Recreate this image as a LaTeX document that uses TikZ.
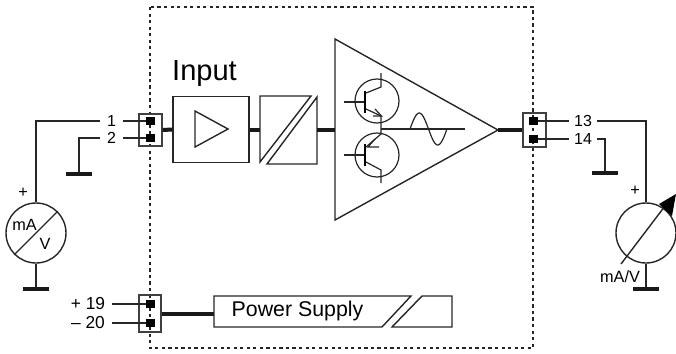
\documentclass[tikz,border=0pt]{standalone}
\usepackage{fontspec}
\setmainfont{Liberation Sans}
\usepackage{tikz}
\tikzset{
	wire/.style={draw=black!85,line width=1.05pt,line join=miter},
	bus/.style={draw=black!90,line width=3pt},
	framebox/.style={draw=black!85,line width=1.1pt,dash pattern=on 2.4pt off 2.5pt},
	pad/.style={fill=black,inner sep=0pt,minimum width=6.5pt,minimum height=6.5pt},
	termbox/.style={draw=black!75,line width=1pt,inner sep=0pt},
	pinlabel/.style={inner sep=0pt,minimum height=12,font=\fontsize{12}{13}\selectfont},
	gnd/.style={fill=black!90,inner sep=0pt,minimum width=19.5pt,minimum height=2.6pt},
	meter/.style={draw=black!85,circle,line width=1.05pt,inner sep=0pt,minimum size=45pt},
	smalltext/.style={inner sep=0pt,font=\fontsize{12.2}{13}\selectfont},
	trcircle/.style={draw=black!85,circle,line width=0.9pt,minimum size=33pt,inner sep=0pt},
	trwire/.style={wire,line width=0.9pt}
}
\begin{document}
\begin{tikzpicture}[x=0.75pt,y=-0.75pt]
	\useasboundingbox (0,0) rectangle (676,354);
	\draw[framebox] (150,7) rectangle (533,348);
	% input side
	\node[termbox,minimum width=17.25pt,minimum height=24pt] (termA) at (150.5,130) {};
	\node[pad] (pad1) at (150.5,121) {};
	\node[pad] (pad2) at (150.5,138) {};
	\node[pinlabel,minimum width=17.25pt] (pin1) at (111.5,121) {1};
	\node[pinlabel,minimum width=17.25pt] (pin2) at (111.5,138) {2};
	\draw[wire] (pin1) -- (pad1);
	\draw[wire] (pin2) -- (pad2);
	\node[meter] (meterA) at (36,233) {};
	\node[gnd] (gndA) at (79,174) {};
	\node[gnd] (gndB) at (36,289) {};
	\draw[wire] (pin1.west) -| (meterA.north);
	\draw[wire] (pin2.west) -| (gndA.north);
	\draw[wire] (meterA.south) -- (gndB.north);
	\draw[wire] (meterA.south west) -- (meterA.north east);
	\node[smalltext] (plusA) at (23,193) {+};
	\node[smalltext] (unitA) at (24.5,225) {mA};
	\node[smalltext] (unitB) at (45,244) {V};
	% input amplifier and isolation
	\node[draw=black!85,line width=1.05pt,minimum width=57pt,minimum height=49.5pt,inner sep=0pt] (inbox) at (211,129.5) {};
	\node[inner sep=0pt,font=\fontsize{21.8}{23}\selectfont] (inlabel) at (204.5,74) {Input};
	\draw[wire] (195,111)--(228,129)--(195,147)--cycle;
	\draw[wire] (311,96)--(260,96)--(260,162)--cycle;
	\draw[wire] (317,97)--(317,164)--(267,164)--cycle;
	\coordinate (isoIn) at (260,129.5);
	\coordinate (isoOut) at (317,130);
	\draw[bus] (termA.east) -- (inbox.west);
	\draw[bus] (inbox.east) -- (isoIn);
	% output stage
	\coordinate (ampIn) at (335,130);
	\coordinate (ampOut) at (498,130);
	\draw[wire] (335,39)--(ampOut)--(335,220)--cycle;
	\draw[bus] (isoOut) -- (ampIn);
	\node[trcircle] (trUp) at (377,101) {};
	\node[trcircle] (trLo) at (377,155) {};
	\draw[trwire] (344,102)--(364,102);
	\draw[trwire] (344,155)--(364,155);
	\draw[black,line width=2.2pt] (365,91)--(365,113);
	\draw[black,line width=2.2pt] (365,144)--(365,166);
	\draw[trwire] (366,93)--(381,87)--(381,73);
	\draw[trwire] (366,109)--(381,116)--(381,134)--(366,147);
	\draw[trwire] (366,162)--(381,170)--(381,183);
	\draw[trwire] (375,109)--(381.5,116)--(373,116);
	\draw[trwire] (375,139)--(368,147)--(379,147);
	\draw[wire] (381,129)--(465,129);
	\draw[trwire,domain=0:1,samples=40] plot ({410+37*\x},{129-16*sin(360*\x)});
	% output side
	\node[termbox,minimum width=17.25pt,minimum height=25.5pt] (termB) at (534.5,130) {};
	\node[pad] (pad13) at (533.5,121) {};
	\node[pad] (pad14) at (533.5,139) {};
	\draw[bus] (ampOut) -- (termB.west);
	\node[pinlabel,minimum width=21pt] (pin13) at (583,121) {13};
	\node[pinlabel,minimum width=21pt] (pin14) at (583,139) {14};
	\draw[wire] (pad13) -- (pin13);
	\draw[wire] (pad14) -- (pin14);
	\node[meter] (meterB) at (646,233) {};
	\node[gnd] (gndC) at (605,173) {};
	\node[gnd] (gndD) at (646,289) {};
	\draw[wire] (pin13.east) -| (meterB.north);
	\draw[wire] (pin14.east) -| (gndC.north);
	\draw[wire] (meterB.south) -- (gndD.north);
	\coordinate (needle) at (621,264);
	\draw[wire] (needle) -- (665,206);
	\fill[black] (676,194)--(659,204)--(672,216)--cycle;
	\node[smalltext] (plusB) at (635,191) {+};
	\node[smalltext] (unitC) at (620,277) {mA/V};
	% power supply
	\node[termbox,minimum width=16.5pt,minimum height=27.75pt] (termC) at (150,313.5) {};
	\node[pad] (pad19) at (150.5,304) {};
	\node[pad] (pad20) at (150.5,323) {};
	\node[pinlabel,inner xsep=5pt,font=\fontsize{13}{14}\selectfont] (pin19) at (88,304) {+ 19};
	\node[pinlabel,inner xsep=5pt,font=\fontsize{13}{14}\selectfont] (pin20) at (88,323) {– 20};
	\draw[wire] (pin19) -- (pad19);
	\draw[wire] (pin20) -- (pad20);
	\coordinate (psIn) at (214,313.5);
	\draw[bus] (termC.east) -- (psIn);
	\draw[wire] (411,296)--(214,296)--(214,327)--(382,327)--cycle;
	\draw[wire] (422,296)--(452,296)--(452,327)--(392,327)--cycle;
	\node[inner sep=0pt,font=\fontsize{16}{17}\selectfont] (pslabel) at (297.5,311) {Power Supply};
\end{tikzpicture}
\end{document}
